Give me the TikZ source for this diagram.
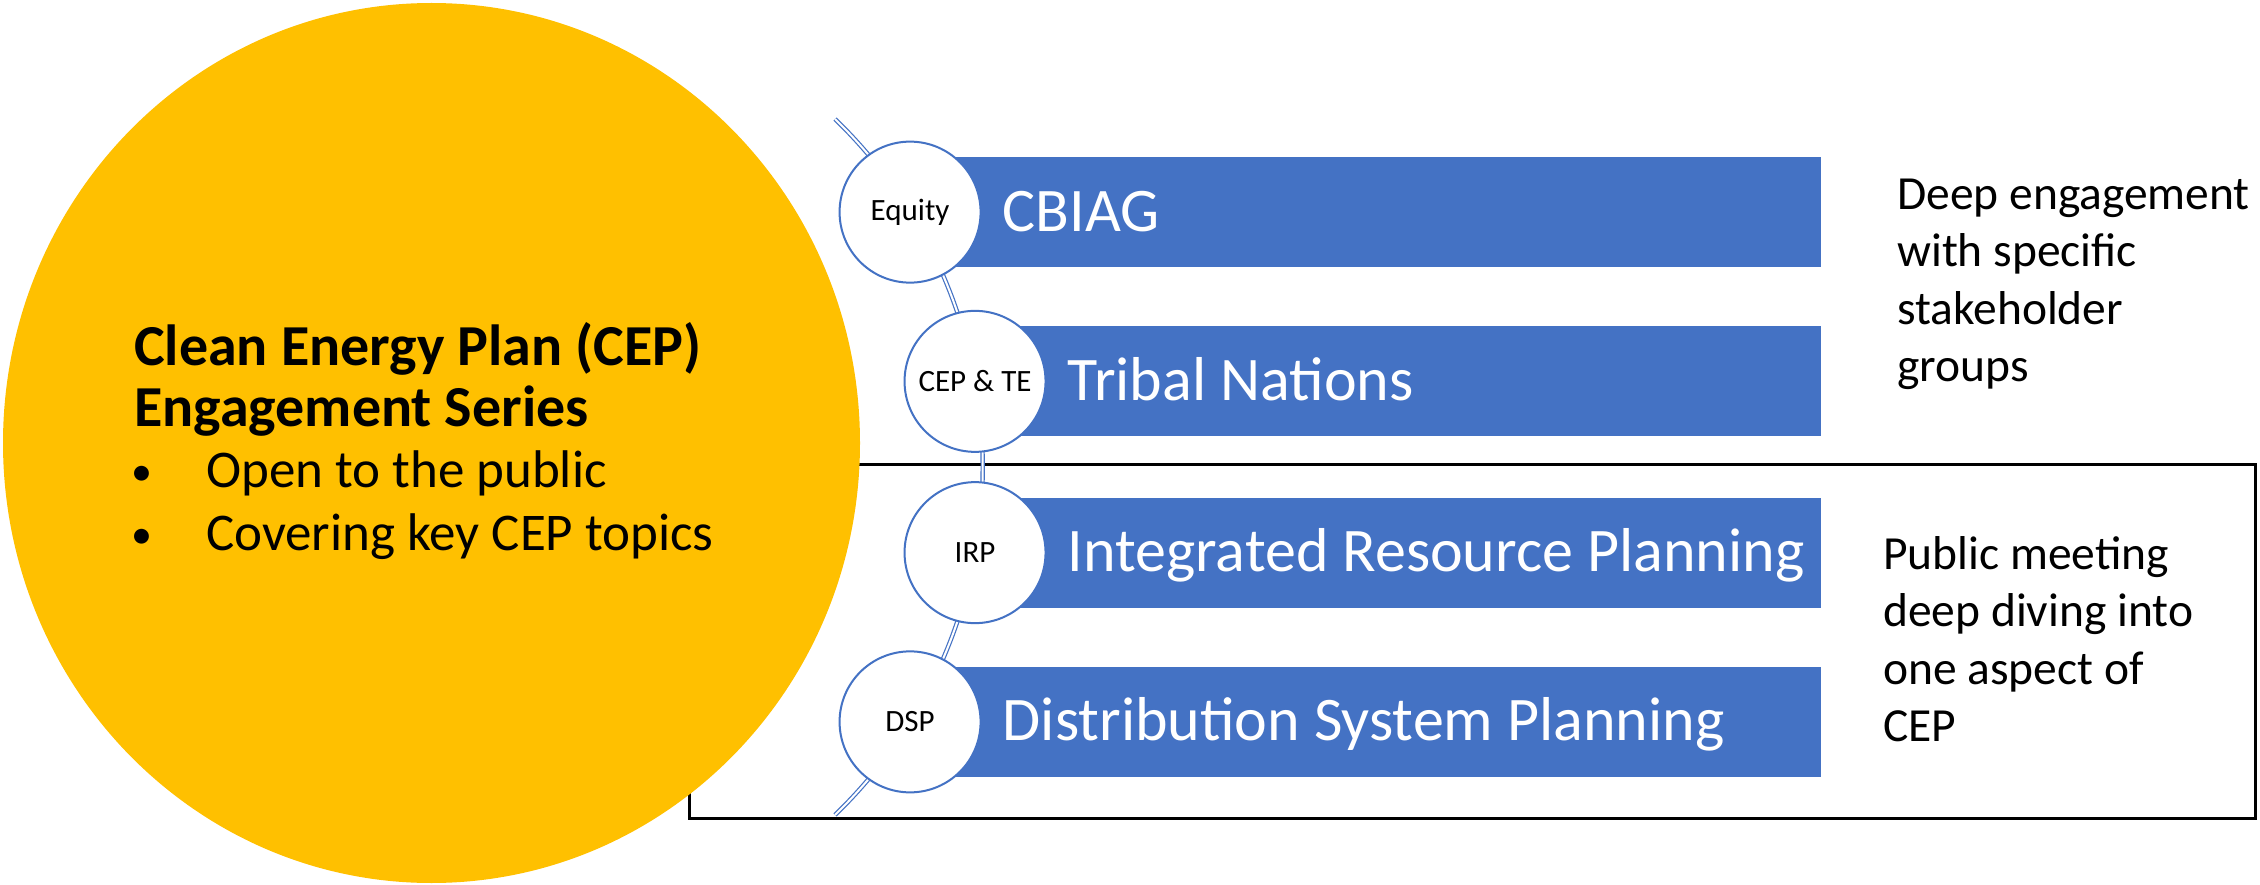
\documentclass[tikz,border=0pt]{standalone}
\usepackage{fontspec}
\setmainfont{Carlito}
\usetikzlibrary{calc,shapes.geometric}
\definecolor{gold}{HTML}{FFC000}
\definecolor{barblue}{HTML}{4472C4}
\begin{document}
\begin{tikzpicture}[x=1pt,y=-1pt,
  bar/.style={fill=barblue, draw=none, anchor=west, minimum height=110pt, inner sep=0pt},
  topic/.style={circle, draw=barblue, line width=2pt, fill=white, minimum size=141pt,
                inner sep=0pt, font=\fontsize{31}{37}\selectfont},
  bartext/.style={anchor=base west, inner sep=0pt, text=white, font=\fontsize{62}{74}\selectfont},
  note/.style={anchor=base west, inner sep=0pt, align=left, font=\fontsize{47.5}{57.5}\selectfont},
  lead/.style={anchor=base west, inner sep=0pt, font=\fontsize{58}{68}\selectfont\bfseries},
  item/.style={anchor=base west, inner sep=0pt, font=\fontsize{53}{63}\selectfont},
  dot/.style={anchor=base west, inner sep=0pt, font=\fontsize{42}{48}\selectfont},
  link/.style={draw=barblue, line width=1.2pt, double=white, double distance=2pt}
]
\useasboundingbox (0,0) rectangle (2260,885);
\fill[white] (0,0) rectangle (2260,885);

% frame around the two public-meeting rows
\node[draw, line width=3pt, minimum width=1566pt, minimum height=354pt, inner sep=0pt] (frame) at (1472,641) {};

% main series disc
\node[ellipse, fill=gold, minimum width=857pt, minimum height=880pt, inner sep=0pt] (cep) at (431.5,443) {};

% arc that strings the topic circles together
\coordinate (arcC) at (499,467);
\coordinate (linkTop) at ($(arcC)+(46:483.7pt)$);
\draw[link] (linkTop) arc[start angle=46, end angle=-46, radius=483.7pt];

% bars
\coordinate (c1) at ($(arcC)+(31.8:483.7pt)$);
\coordinate (c2) at ($(arcC)+(10.2:483.7pt)$);
\coordinate (c3) at ($(arcC)+(-10.2:483.7pt)$);
\coordinate (c4) at ($(arcC)+(-31.8:483.7pt)$);
\node[bar, minimum width=911pt] (b1) at (c1) {};
\node[bar, minimum width=846pt] (b2) at (c2) {};
\node[bar, minimum width=846pt] (b3) at (c3) {};
\node[bar, minimum width=911pt] (b4) at (c4) {};

% topic circles
\node[topic] (eq) at (c1) {Equity};
\node[topic] (te) at (c2) {CEP \& TE};
\node[topic] (irp) at (c3) {IRP};
\node[topic] (dsp) at (c4) {DSP};

% bar labels
\node[bartext] (t1) at ($(eq.east)+(21,19)$) {CBIAG};
\node[bartext] (t2) at ($(te.east)+(21,19)$) {Tribal Nations};
\node[bartext] (t3) at ($(irp.east)+(21,19)$) {Integrated Resource Planning};
\node[bartext] (t4) at ($(dsp.east)+(21,19)$) {Distribution System Planning};

% side notes (base anchor sits on the last line)
\node[note] (n1) at (1897,381.5) {Deep engagement\\with specific\\stakeholder\\groups};
\node[note] (n2) at (1883,741.5) {Public meeting\\deep diving into\\one aspect of\\CEP};

% text inside the disc
\node[lead] (h1) at (134,365) {Clean Energy Plan (CEP)};
\node[lead] (h2) at (134,426) {Engagement Series};
\node[dot] (d1) at (131,485) {\textbullet};
\node[item] (i1) at (206,487) {Open to the public};
\node[dot] (d2) at (131,548) {\textbullet};
\node[item] (i2) at (206,550) {Covering key CEP topics};
\end{tikzpicture}
\end{document}
